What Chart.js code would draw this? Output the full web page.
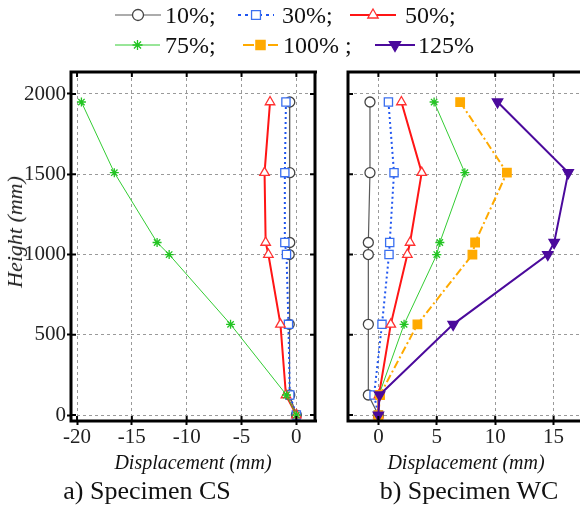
<!DOCTYPE html>
<html lang="en">
<head>
<meta charset="utf-8" />
<title>Displacement profiles</title>
<script src="https://cdn.jsdelivr.net/npm/chart.js"></script>
<style>
  body { margin: 0; width: 580px; height: 509px; overflow: hidden; background: #fff; position: relative; }
  canvas { position: absolute; left: 0; top: 0; }
  .lab, .leg { position: absolute; white-space: nowrap; line-height: 1; color: #111;
    font-family: "Liberation Serif", "Times New Roman", serif; }
  .lab { transform: translate(-50%, -50%); }
  .leg { font-size: 24px; transform: translateY(-50%); }
</style>
</head>
<body>
<canvas id="legendCanvas" width="580" height="70"></canvas>
<canvas id="chartCS" width="580" height="509"></canvas>
<canvas id="chartWC" width="640" height="509"></canvas>

<div class="lab" style="left:15px; top:232px; font-size:22px; font-style:italic; color:#222; transform:translate(-50%,-50%) rotate(-90deg);">Height (mm)</div>
<div class="lab" style="left:193px; top:462px; font-size:20px; font-style:italic;">Displacement (mm)</div>
<div class="lab" style="left:466px; top:462px; font-size:20px; font-style:italic;">Displacement (mm)</div>
<div class="lab" style="left:147px; top:491px; font-size:26px;">a) Specimen CS</div>
<div class="lab" style="left:469px; top:491px; font-size:26px;">b) Specimen WC</div>

<script>
// heights of the measuring points (mm)
const heights = [1950, 1510, 1075, 1000, 565, 125, 0];
const seriesNames = ['10%;', '30%;', '50%;', '75%;', '100% ;', '125%'];

// a) Specimen CS, displacement (mm)
const cs10 = [-0.6, -0.6, -0.6, -0.65, -0.65, -0.6, 0];
const cs30 = [-0.95, -1.05, -1.05, -0.9, -0.72, -0.6, 0];
const cs50 = [-2.4, -2.9, -2.8, -2.55, -1.45, -0.95, 0];
const cs75 = [-19.6, -16.6, -12.7, -11.6, -6.0, -0.9, 0];

// b) Specimen WC, displacement (mm)
const wc10 = [-0.72, -0.72, -0.86, -0.86, -0.86, -0.86, 0];
const wc30 = [0.86, 1.34, 0.97, 0.91, 0.31, -0.37, 0];
const wc50 = [1.97, 3.71, 2.71, 2.48, 1.06, 0.05, 0];
const wc75 = [4.77, 7.4, 5.26, 5.0, 2.2, 0.05, 0];
const wc100 = [7.0, 11.0, 8.28, 8.05, 3.34, 0.14, 0];
const wc125 = [10.2, 16.25, 15.05, 14.5, 6.4, 0.1, 0];

const yTicks = [0, 500, 1000, 1500, 2000];
const xTicksCS = [-20, -15, -10, -5, 0];
const xTicksWC = [0, 5, 10, 15];

const styles = [
  { line: '#5a5a5a', width: 1.2, dash: [], point: 'circle', radius: 5, pborder: '#444', pfill: '#fff', rot: 0 },
  { line: '#1f55f0', width: 2, dash: [2, 3], point: 'rect', radius: 5.8, pborder: '#3a6ff0', pfill: '#fff', rot: 0 },
  { line: '#ff1515', width: 2, dash: [], point: 'triangle', radius: 5.5, pborder: '#ff3030', pfill: '#fff', rot: 0 },
  { line: '#33cc33', width: 1, dash: [], point: 'star', radius: 4.5, pborder: '#22c422', pfill: '#22c422', rot: 0 },
  { line: '#ffaa00', width: 2, dash: [8, 3, 2, 3], point: 'rect', radius: 6, pborder: '#ffaa00', pfill: '#ffaa00', rot: 0 },
  { line: '#4b0a9c', width: 2, dash: [], point: 'triangle', radius: 6, pborder: '#4b0a9c', pfill: '#4b0a9c', rot: 180 }
];

function makeSet(values, i) {
  const s = styles[i];
  return {
    label: seriesNames[i],
    data: values.map((v, k) => ({ x: v, y: heights[k] })),
    showLine: true,
    borderColor: s.line,
    borderWidth: s.width,
    borderDash: s.dash,
    pointStyle: s.point,
    pointRadius: s.radius,
    pointRotation: s.rot,
    pointBorderColor: s.pborder,
    pointBackgroundColor: s.pfill,
    pointBorderWidth: 1.3,
    order: 10 - i
  };
}

// black frame with inward ticks, right side optional (WC panel runs off the page)
const framePlugin = {
  id: 'frame',
  afterDatasetsDraw(chart, args, opts) {
    const a = chart.chartArea, ctx = chart.ctx;
    const xs = chart.scales.x, ys = chart.scales.y;
    ctx.save();
    ctx.strokeStyle = '#000';
    ctx.lineWidth = 2;
    ctx.beginPath();
    xs.ticks.forEach(t => {
      const px = xs.getPixelForValue(t.value);
      ctx.moveTo(px, a.bottom); ctx.lineTo(px, a.bottom - 5);
      ctx.moveTo(px, a.top); ctx.lineTo(px, a.top + 5);
    });
    ys.ticks.forEach(t => {
      const py = ys.getPixelForValue(t.value);
      ctx.moveTo(a.left, py); ctx.lineTo(a.left + 5, py);
      if (!opts.noRight) { ctx.moveTo(a.right, py); ctx.lineTo(a.right - 5, py); }
    });
    ctx.stroke();
    ctx.lineWidth = 3;
    ctx.beginPath();
    ctx.moveTo(a.right + 2, a.top); ctx.lineTo(a.left, a.top); ctx.lineTo(a.left, a.bottom); ctx.lineTo(a.right + 2, a.bottom);
    if (!opts.noRight) { ctx.moveTo(a.right, a.top); ctx.lineTo(a.right, a.bottom); }
    ctx.stroke();
    ctx.restore();
  }
};

const tickFont = { family: '"Liberation Serif", "Times New Roman", serif', size: 21 };

function makeChart(id, sets, xTicks, xMin, xMax, showY, pad) {
  return new Chart(document.getElementById(id), {
    type: 'scatter',
    data: { datasets: sets },
    options: {
      responsive: false,
      animation: false,
      layout: { padding: pad },
      plugins: { legend: { display: false }, tooltip: { enabled: false }, frame: { noRight: !showY } },
      scales: {
        x: {
          min: xMin, max: xMax,
          afterBuildTicks: s => { s.ticks = xTicks.map(v => ({ value: v })); },
          afterFit: s => { s.height = 40; },
          ticks: { font: tickFont, color: '#222', padding: 0, callback: v => String(v) },
          grid: { color: '#9a9a9a', lineWidth: 1, tickColor: '#000', tickLength: 4, tickWidth: 2 },
          border: { display: false, dash: [3, 3] }
        },
        y: {
          min: -37, max: 2137,
          afterBuildTicks: s => { s.ticks = yTicks.map(v => ({ value: v })); },
          afterFit: s => { s.width = showY ? 71 : 0; },
          ticks: { display: showY, font: tickFont, color: '#222', padding: 1, callback: v => String(v) },
          grid: { color: '#9a9a9a', lineWidth: 1, tickColor: '#000', tickLength: 4, tickWidth: 2, drawTicks: showY },
          border: { display: false, dash: [3, 3] }
        }
      }
    },
    plugins: [framePlugin]
  });
}

makeChart('chartCS', [cs10, cs30, cs50, cs75].map(makeSet), xTicksCS, -20.55, 1.7, true,
  { left: 0, top: 72, right: 265, bottom: 48 });
makeChart('chartWC', [wc10, wc30, wc50, wc75, wc100, wc125].map(makeSet), xTicksWC, -2.6, 17.6, false,
  { left: 348, top: 72, right: 56, bottom: 48 });

// legend: line sample + marker, text as html
const legendPos = [
  { x0: 115, x1: 161, tx: 165, y: 15 },
  { x0: 238, x1: 274, tx: 282, y: 15 },
  { x0: 350, x1: 396, tx: 405, y: 15 },
  { x0: 115, x1: 160, tx: 165, y: 45 },
  { x0: 243, x1: 278, tx: 283, y: 45 },
  { x0: 375, x1: 415, tx: 418, y: 45 }
];
const lctx = document.getElementById('legendCanvas').getContext('2d');
legendPos.forEach((p, i) => {
  const s = styles[i];
  lctx.save();
  lctx.strokeStyle = s.line;
  lctx.lineWidth = s.width;
  lctx.setLineDash(s.dash.length ? [3, 4] : []);
  if (i === 4) lctx.setLineDash([11, 14]);
  lctx.beginPath(); lctx.moveTo(p.x0, p.y); lctx.lineTo(p.x1, p.y); lctx.stroke();
  lctx.setLineDash([]);
  lctx.strokeStyle = s.pborder;
  lctx.fillStyle = s.pfill;
  lctx.lineWidth = 1.3;
  Chart.helpers.drawPoint(lctx, { pointStyle: s.point, radius: s.radius + 0.5, rotation: s.rot, borderWidth: 1.3 }, (p.x0 + p.x1) / 2, p.y);
  lctx.restore();
  const d = document.createElement('div');
  d.className = 'leg';
  d.style.left = p.tx + 'px';
  d.style.top = p.y + 'px';
  d.textContent = seriesNames[i];
  document.body.appendChild(d);
});
</script>
</body>
</html>
